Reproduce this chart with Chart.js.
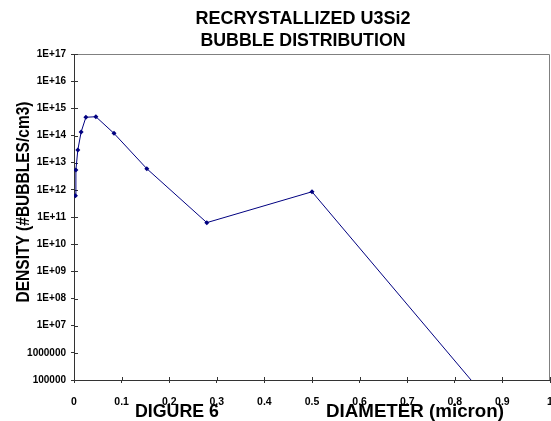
<!DOCTYPE html>
<html>
<head>
<meta charset="utf-8">
<script src="https://cdn.jsdelivr.net/npm/chart.js@4/dist/chart.umd.min.js"></script>
<style>
    html, body { margin: 0; padding: 0; background: #ffffff; }
    canvas { display: block; }
</style>
</head>
<body>
<canvas id="bubbleChart" width="551" height="421"></canvas>
<script>
const diameters = [0.003, 0.004, 0.008, 0.015, 0.025, 0.046, 0.084, 0.153, 0.279, 0.5, 0.9];
const densities = [6.1e11, 5.4e12, 2.9e13, 1.35e14, 4.7e14, 4.9e14, 1.2e14, 6.0e12, 6.2e10, 8.5e11, 4.3e3];
const yTickValues = [1e5, 1e6, 1e7, 1e8, 1e9, 1e10, 1e11, 1e12, 1e13, 1e14, 1e15, 1e16, 1e17];
const titleLines = ['RECRYSTALLIZED U3Si2', 'BUBBLE DISTRIBUTION'];
const yTitle = 'DENSITY (#BUBBLES/cm3)';
const figureLabel = 'DIGURE 6';
const xTitle = 'DIAMETER (micron)';
const X_MAX = 1;

const FONT = '"Liberation Sans", Arial, sans-serif';
const AXIS_COLOR = '#333333';
const TICK_FONT_X = { family: FONT, size: 10.5, weight: 'bold' };

const formatDensity = (value) => {
    const exp = Math.round(Math.log10(value));
    if (exp <= 6) {
        return String(Math.pow(10, exp));
    }
    return `1E+${String(exp).padStart(2, '0')}`;
};

// draws bold text squeezed to a given width, x/y is the baseline anchor
const drawFitted = (ctx, text, x, y, width, size, align, angle = 0) => {
    ctx.save();
    ctx.font = `bold ${size}px ${FONT}`;
    const natural = ctx.measureText(text).width;
    ctx.translate(x, y);
    ctx.rotate(angle);
    ctx.scale(width / natural, 1);
    ctx.textBaseline = 'alphabetic';
    ctx.textAlign = align;
    ctx.fillStyle = '#000000';
    ctx.fillText(text, 0, 0);
    ctx.restore();
};

const excelDecor = {
    id: 'excelDecor',
    beforeDatasetsDraw(chart) {
        const { ctx, chartArea: a } = chart;
        ctx.save();
        ctx.strokeStyle = '#808080';
        ctx.lineWidth = 1;
        ctx.beginPath();
        ctx.moveTo(a.left, a.top + 0.5);
        ctx.lineTo(a.right - 0.5, a.top + 0.5);
        ctx.lineTo(a.right - 0.5, a.bottom);
        ctx.stroke();
        // inner halves of the crossing tick marks
        ctx.strokeStyle = AXIS_COLOR;
        ctx.beginPath();
        chart.scales.x.ticks.forEach((t) => {
            const px = Math.round(chart.scales.x.getPixelForValue(t.value)) + 0.5;
            ctx.moveTo(px, a.bottom);
            ctx.lineTo(px, a.bottom - 3);
        });
        chart.scales.y.ticks.forEach((t) => {
            const py = Math.round(chart.scales.y.getPixelForValue(t.value)) + 0.5;
            ctx.moveTo(a.left, py);
            ctx.lineTo(a.left + 4, py);
        });
        ctx.stroke();
        ctx.restore();
    },
    afterDraw(chart) {
        const { ctx, chartArea: a } = chart;
        // last x label is left out of the layout so the plot reaches the edge
        ctx.save();
        ctx.font = `bold ${TICK_FONT_X.size}px ${FONT}`;
        ctx.fillStyle = '#000000';
        ctx.textAlign = 'center';
        ctx.textBaseline = 'middle';
        ctx.fillText(String(X_MAX), chart.scales.x.getPixelForValue(X_MAX), a.bottom + 3 + 13 + 6);
        ctx.restore();

        drawFitted(ctx, titleLines[0], 303, 24, 215, 19, 'center');
        drawFitted(ctx, titleLines[1], 303, 45.5, 205, 19, 'center');
        drawFitted(ctx, yTitle, 29, 202, 201, 18, 'center', -Math.PI / 2);
        drawFitted(ctx, figureLabel, 135, 417, 84, 19, 'left');
        drawFitted(ctx, xTitle, 326, 417, 178, 19, 'left');
    },
};

new Chart(document.getElementById('bubbleChart'), {
    type: 'scatter',
    data: {
        datasets: [
            {
                data: diameters.map((d, i) => ({ x: d, y: densities[i] })),
                showLine: true,
                borderColor: '#000080',
                backgroundColor: '#000080',
                borderWidth: 1,
                pointStyle: 'rectRot',
                pointRadius: 2.5,
                pointBorderWidth: 0,
                tension: 0,
            },
        ],
    },
    options: {
        responsive: false,
        animation: false,
        devicePixelRatio: 1,
        layout: {
            autoPadding: false,
            padding: { top: 54, right: 1, bottom: 0, left: 0 },
        },
        plugins: {
            legend: { display: false },
            tooltip: { enabled: false },
            title: { display: false },
        },
        scales: {
            x: {
                type: 'linear',
                min: 0,
                max: X_MAX,
                border: { color: AXIS_COLOR, width: 1 },
                grid: {
                    drawOnChartArea: false,
                    drawTicks: true,
                    tickLength: 3,
                    color: AXIS_COLOR,
                },
                ticks: {
                    stepSize: 0.1,
                    color: '#000000',
                    padding: 13,
                    font: TICK_FONT_X,
                    callback: (value) => (value >= X_MAX ? '' : String(Math.round(value * 10) / 10)),
                },
                afterFit: (scale) => {
                    scale.height = 41;
                    scale.paddingLeft = 0;
                    scale.paddingRight = 0;
                },
            },
            y: {
                type: 'logarithmic',
                min: 1e5,
                max: 1e17,
                border: { color: AXIS_COLOR, width: 1 },
                grid: {
                    drawOnChartArea: false,
                    drawTicks: true,
                    tickLength: 3,
                    color: AXIS_COLOR,
                },
                afterBuildTicks: (scale) => {
                    scale.ticks = yTickValues.map((v) => ({ value: v }));
                },
                ticks: {
                    color: '#000000',
                    padding: 5,
                    autoSkip: false,
                    font: { family: FONT, size: 10, weight: 'bold' },
                    callback: (value) => formatDensity(value),
                },
                afterFit: (scale) => {
                    scale.width = 74;
                    scale.paddingTop = 0;
                    scale.paddingBottom = 0;
                },
            },
        },
    },
    plugins: [excelDecor],
});
</script>
</body>
</html>
